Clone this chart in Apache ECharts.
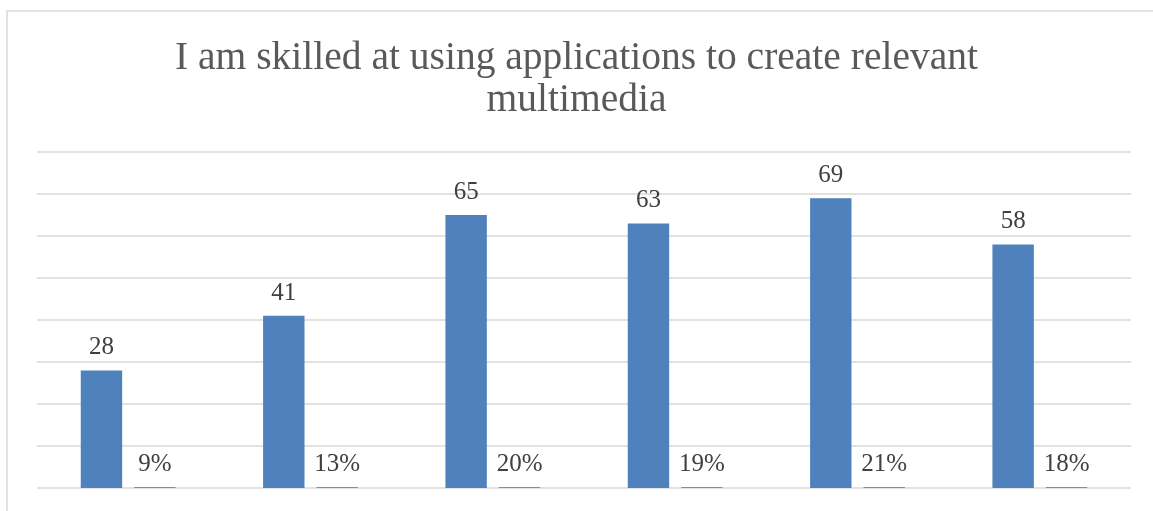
<!DOCTYPE html>
<html>
<head>
<meta charset="utf-8">
<script src="https://cdn.jsdelivr.net/npm/echarts@6/dist/echarts.min.js"></script>
<style>
  html, body { margin: 0; padding: 0; background: #ffffff; }
  #chart { width: 1153px; height: 511px; }
</style>
</head>
<body>
<div id="chart"></div>
<script>
// Survey responses per rating option, and each option's share of all responses
const categories = ['1', '2', '3', '4', '5', '6'];
const counts = [28, 41, 65, 63, 69, 58];
const shares = [0.09, 0.13, 0.20, 0.19, 0.21, 0.18];
const titleText = 'I am skilled at using applications to create relevant\nmultimedia';

const fontFamily = '"Liberation Serif", "DejaVu Serif", serif';
const chart = echarts.init(document.getElementById('chart'), null, { renderer: 'canvas' });

chart.setOption({
  backgroundColor: '#ffffff',
  animation: false,
  title: {
    text: titleText,
    left: 'center',
    top: 33,
    textStyle: {
      fontFamily: fontFamily,
      fontSize: 39.5,
      fontWeight: 'normal',
      color: '#595959',
      lineHeight: 42
    }
  },
  graphic: [{
    type: 'rect',
    shape: { x: 7, y: 11, width: 1160, height: 520 },
    style: { fill: 'none', stroke: '#d9d9d9', lineWidth: 1.5 },
    silent: true
  }],
  grid: { left: 37, right: 22, top: 152, bottom: 23 },
  xAxis: {
    type: 'category',
    data: categories,
    axisLine: { show: false },
    axisTick: { show: false },
    axisLabel: { show: false }
  },
  yAxis: {
    type: 'value',
    min: 0,
    max: 80,
    interval: 10,
    axisLine: { show: false },
    axisTick: { show: false },
    axisLabel: { show: false },
    splitLine: { lineStyle: { color: '#d9d9d9', width: 1.5 } }
  },
  series: [
    {
      name: 'Count',
      type: 'bar',
      data: counts,
      barGap: '29%',
      barCategoryGap: '48%',
      itemStyle: { color: '#4f81bd' },
      label: {
        show: true,
        position: 'top',
        distance: 10,
        fontFamily: fontFamily,
        fontSize: 25,
        color: '#404040'
      }
    },
    {
      name: 'Share',
      type: 'bar',
      data: shares,
      barMinHeight: 1,
      itemStyle: { color: '#d0706d' },
      label: {
        show: true,
        position: 'top',
        distance: 10,
        fontFamily: fontFamily,
        fontSize: 25,
        color: '#404040',
        formatter: p => Math.round(p.value * 100) + '%'
      }
    }
  ]
});
</script>
</body>
</html>
